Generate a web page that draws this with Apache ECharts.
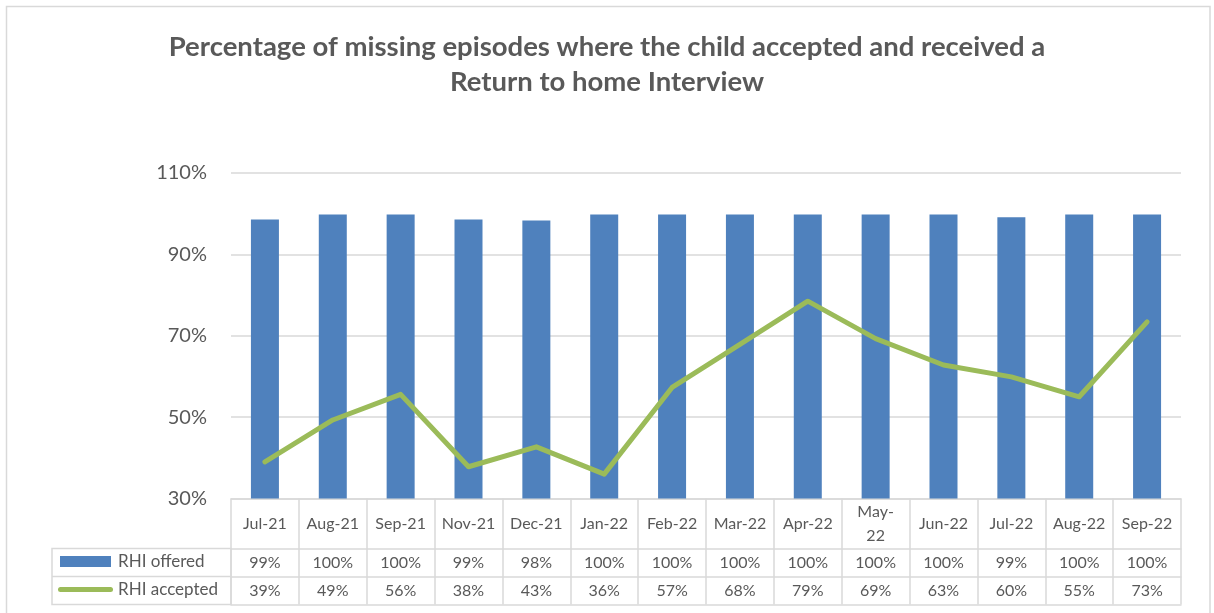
<!DOCTYPE html>
<html>
<head>
<meta charset="utf-8">
<script src="https://cdn.jsdelivr.net/npm/echarts@6/dist/echarts.min.js"></script>
<style>html,body{margin:0;padding:0;background:#fff;}#c{width:1214px;height:613px;}</style>
</head>
<body>
<div id="c"></div>
<script>
const categories = ['Jul-21','Aug-21','Sep-21','Nov-21','Dec-21','Jan-22','Feb-22','Mar-22','Apr-22','May-22','Jun-22','Jul-22','Aug-22','Sep-22'];
const tickLabels = ['Jul-21','Aug-21','Sep-21','Nov-21','Dec-21','Jan-22','Feb-22','Mar-22','Apr-22','May-\n22','Jun-22','Jul-22','Aug-22','Sep-22'];
const offered = [98.6, 99.8, 99.8, 98.6, 98.3, 99.8, 99.8, 99.8, 99.8, 99.8, 99.8, 99.1, 99.8, 99.8];
const accepted = [39.0, 49.3, 55.6, 37.8, 42.7, 36.0, 57.3, 67.9, 78.5, 69.3, 62.8, 59.9, 55.0, 73.4];
const offeredLabels = ['99%','100%','100%','99%','98%','100%','100%','100%','100%','100%','100%','99%','100%','100%'];
const acceptedLabels = ['39%','49%','56%','38%','43%','36%','57%','68%','79%','69%','63%','60%','55%','73%'];
const yTicks = {min: 30, max: 110, interval: 20};

const FONT = 'Lato, "Open Sans", sans-serif';
const TXT = '#595959';
const GRID = '#d9d9d9';

const chart = echarts.init(document.getElementById('c'), null, {renderer: 'canvas'});

function rowAxis(offset, labels, showTicks) {
  return {
    type: 'category', data: categories, gridIndex: 0, position: 'bottom', offset: offset,
    axisLine: {show: true, onZero: false, lineStyle: {color: GRID, width: 1.5}},
    axisTick: {show: showTicks, length: 28, lineStyle: {color: GRID, width: 1.5}},
    axisLabel: {show: !!labels, interval: 0, margin: 14, verticalAlign: 'middle',
      fontFamily: FONT, fontSize: 16, color: TXT,
      formatter: function (v, i) { return labels ? labels[i] : ''; }},
    splitLine: {show: false}
  };
}

chart.setOption({
  animation: false,
  backgroundColor: '#fff',
  title: {
    text: 'Percentage of missing episodes where the child accepted and received a\nReturn to home Interview',
    left: 'center', top: 25,
    textStyle: {fontFamily: FONT, fontSize: 27.5, fontWeight: 'bold', color: TXT, lineHeight: 35}
  },
  grid: {left: 231, right: 33, top: 173, bottom: 114.5, containLabel: false},
  legend: [
    {data: [{name: 'RHI offered', icon: 'rect'}], left: 60, top: 553, padding: 0,
     itemWidth: 51, itemHeight: 11, itemGap: 0,
     textStyle: {fontFamily: FONT, fontSize: 17, color: TXT, padding: [0, 0, 0, 2]}, selectedMode: false},
    {data: [{name: 'RHI accepted', icon: 'path://M2.5,0 L52.5,0 A2.5,2.5 0 0 1 52.5,5 L2.5,5 A2.5,2.5 0 0 1 2.5,0 Z'}],
     left: 58, top: 581, padding: 0, itemWidth: 55, itemHeight: 5, itemGap: 0,
     textStyle: {fontFamily: FONT, fontSize: 17, color: TXT}, selectedMode: false}
  ],
  xAxis: [
    {
      type: 'category', data: categories, position: 'bottom',
      axisLine: {show: true, onZero: false, lineStyle: {color: GRID, width: 1.5}},
      axisTick: {show: true, length: 50, lineStyle: {color: GRID, width: 1.5}},
      axisLabel: {interval: 0, margin: 25, verticalAlign: 'middle', lineHeight: 24,
        fontFamily: FONT, fontSize: 16, color: TXT,
        formatter: function (v, i) { return tickLabels[i]; }}
    },
    rowAxis(50, offeredLabels, true),
    rowAxis(78, acceptedLabels, true),
    rowAxis(106, null, false)
  ],
  yAxis: {
    type: 'value', min: yTicks.min, max: yTicks.max, interval: yTicks.interval,
    axisLine: {show: false}, axisTick: {show: false},
    axisLabel: {formatter: '{value}%', fontFamily: FONT, fontSize: 20, color: TXT, margin: 24},
    splitLine: {lineStyle: {color: GRID, width: 1.5}}
  },
  series: [
    {name: 'RHI offered', type: 'bar', data: offered, barWidth: 28,
     itemStyle: {color: '#4f81bd'}, xAxisIndex: 0},
    {name: 'RHI accepted', type: 'line', data: accepted, symbol: 'none', showSymbol: false,
     lineStyle: {color: '#9bbb59', width: 5, cap: 'round', join: 'round'},
     itemStyle: {color: '#9bbb59'}, xAxisIndex: 0}
  ],
  graphic: [
    {type: 'rect', shape: {x: 6.5, y: 6.5, width: 1203.5, height: 640}, silent: true,
     style: {fill: 'none', stroke: GRID, lineWidth: 1.5}},
    {type: 'rect', shape: {x: 52, y: 548.5, width: 179, height: 56}, silent: true,
     style: {fill: 'none', stroke: GRID, lineWidth: 1.5}},
    {type: 'line', shape: {x1: 52, y1: 576.5, x2: 231, y2: 576.5}, silent: true,
     style: {stroke: GRID, lineWidth: 1.5}}
  ]
});
</script>
</body>
</html>
